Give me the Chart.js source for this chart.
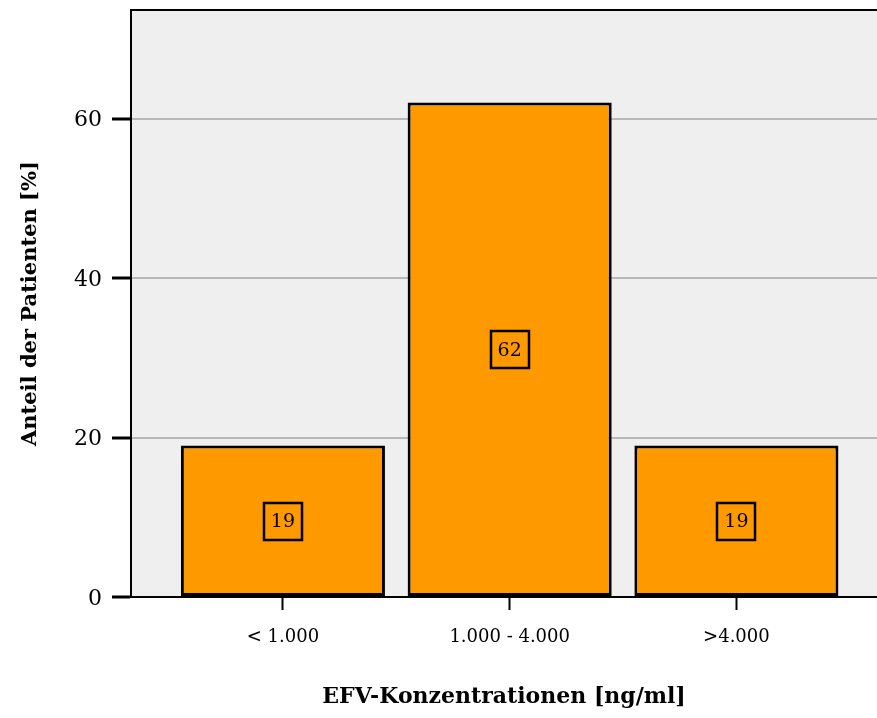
<!DOCTYPE html>
<html>
<head>
<meta charset="utf-8">
<script src="https://cdn.jsdelivr.net/npm/chart.js@4"></script>
<style>
  html, body { margin: 0; padding: 0; background: #fff; }
  #wrap { width: 877px; height: 718px; }
</style>
</head>
<body>
<div id="wrap"><canvas id="efvChart" width="877" height="718"></canvas></div>
<script>
// data
const categories = ["< 1.000", "1.000 - 4.000", ">4.000"];
const percentValues = [19, 62, 19];
const yTickStep = 20;
const yMax = 73.6;

const serif = "'DejaVu Serif', 'Liberation Serif', serif";

// grey panel + top frame line behind the bars
const panelPlugin = {
  id: "panel",
  beforeDraw(chart) {
    const { ctx, chartArea: a } = chart;
    ctx.save();
    ctx.fillStyle = "#efefef";
    ctx.fillRect(a.left, a.top, a.right - a.left, a.bottom - a.top);
    ctx.strokeStyle = "#000";
    ctx.lineWidth = 2;
    ctx.beginPath();
    ctx.moveTo(a.left, a.top);
    ctx.lineTo(a.right, a.top);
    ctx.stroke();
    ctx.restore();
  }
};

// boxed value labels in the middle of each bar
const boxLabels = {
  id: "boxLabels",
  afterDatasetsDraw(chart) {
    const { ctx } = chart;
    const yScale = chart.scales.y;
    const meta = chart.getDatasetMeta(0);
    ctx.save();
    ctx.font = "19px " + serif;
    ctx.textAlign = "center";
    ctx.textBaseline = "middle";
    meta.data.forEach((bar, i) => {
      const v = percentValues[i];
      const cy = yScale.getPixelForValue(v / 2);
      const txt = String(v);
      const w = ctx.measureText(txt).width + 14;
      const h = 37;
      ctx.strokeStyle = "#000";
      ctx.lineWidth = 2.5;
      ctx.strokeRect(Math.round(bar.x - w / 2), Math.round(cy - h / 2), Math.round(w), h);
      ctx.fillStyle = "#000";
      ctx.fillText(txt, bar.x, cy + 1);
    });
    ctx.restore();
  }
};

const ctx = document.getElementById("efvChart");

new Chart(ctx, {
  type: "bar",
  data: {
    datasets: [{
      data: percentValues.map((v, i) => ({ x: i, y: v })),
      backgroundColor: "#ff9900",
      borderColor: "#000",
      borderWidth: 3,
      borderSkipped: false,
      barPercentage: 0.9,
      categoryPercentage: 1
    }]
  },
  options: {
    responsive: false,
    animation: false,
    layout: { padding: 0 },
    plugins: {
      legend: { display: false },
      tooltip: { enabled: false }
    },
    scales: {
      x: {
        type: "linear",
        min: -0.67,
        max: 2.62,
        offset: false,
        afterFit(scale) { scale.height = 121; },
        ticks: {
          stepSize: 1,
          includeBounds: false,
          callback: (value) => categories[value],
          font: { family: serif, size: 18 },
          color: "#000",
          padding: 17,
          maxRotation: 0,
          autoSkip: false
        },
        grid: {
          offset: false,
          drawOnChartArea: false,
          drawTicks: true,
          tickLength: 13,
          tickColor: "#000",
          tickWidth: 2
        },
        border: { color: "#000", width: 2 },
        title: {
          display: true,
          text: "EFV-Konzentrationen [ng/ml]",
          font: { family: serif, size: 22, weight: "bold" },
          color: "#000",
          padding: { top: 4, bottom: 8 }
        }
      },
      y: {
        min: 0,
        max: yMax,
        afterFit(scale) { scale.width = 131; },
        ticks: {
          stepSize: yTickStep,
          includeBounds: false,
          // tiny lineHeight keeps the plot top close to the canvas edge
          font: { family: serif, size: 22, lineHeight: 0.01 },
          color: "#000",
          padding: 10,
          labelOffset: 2
        },
        grid: {
          color: "#b8b8b8",
          lineWidth: 2,
          tickLength: 19,
          tickColor: "#000",
          tickWidth: 3
        },
        border: { color: "#000", width: 2 },
        title: {
          display: true,
          text: "Anteil der Patienten [%]",
          font: { family: serif, size: 21, weight: "bold" },
          color: "#000",
          padding: { top: 18, bottom: 6 }
        }
      }
    }
  },
  plugins: [panelPlugin, boxLabels]
});
</script>
</body>
</html>
